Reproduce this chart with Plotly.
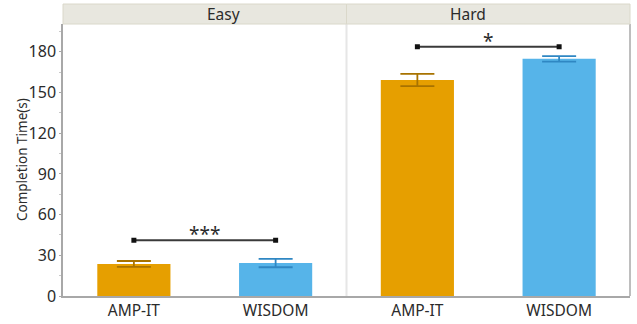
import plotly.graph_objects as go

# Completion time by task difficulty and method (mean ± error)
conditions = ["Easy", "Hard"]
methods = ["AMP-IT", "WISDOM"]
easy_mean = [23.6, 24.3]
easy_err = [2.2, 3.1]
hard_mean = [159.2, 174.8]
hard_err = [4.5, 2.0]
sig_labels = ["***", "*"]
sig_heights = [41.1, 183.8]
y_ticks = [0, 30, 60, 90, 120, 150, 180]

bar_colors = ["#E69F00", "#56B4E9"]
err_colors = ["#A87300", "#2F87C3"]
FONT = "Noto Sans"
TEXT = "#2b2b2b"
AXIS_GRAY = "#a8a8a8"

fig = go.Figure()

panel_means = [easy_mean, hard_mean]
panel_errs = [easy_err, hard_err]
xrefs = ["x", "x2"]

for p, cond in enumerate(conditions):
    for m, name in enumerate(methods):
        fig.add_trace(go.Bar(
            x=[m], y=[panel_means[p][m]], width=0.516,
            marker=dict(color=bar_colors[m], line=dict(width=0)),
            error_y=dict(type="data", array=[panel_errs[p][m]], visible=True,
                         color=err_colors[m], thickness=1.8, width=17),
            xaxis=xrefs[p], yaxis="y", showlegend=False, name=name,
        ))
    # significance bracket between the two bars
    fig.add_trace(go.Scatter(
        x=[0, 1], y=[sig_heights[p], sig_heights[p]], mode="lines+markers",
        line=dict(color="#3a3a3a", width=2),
        marker=dict(symbol="square", size=5, color="#111111"),
        xaxis=xrefs[p], yaxis="y", showlegend=False, hoverinfo="skip",
    ))
    fig.add_annotation(
        x=0.5, y=sig_heights[p], xref=xrefs[p], yref="y", text=sig_labels[p],
        showarrow=False, yanchor="bottom", yshift=-9,
        font=dict(family=FONT, size=19, color=TEXT),
    )

xaxis_common = dict(
    range=[-0.5, 1.5], tickmode="array", tickvals=[0, 1], ticktext=methods,
    showline=True, linecolor=AXIS_GRAY, linewidth=1.5, ticks="",
    showgrid=False, zeroline=False, fixedrange=True, automargin=False,
    tickfont=dict(family=FONT, size=15.5, color=TEXT),
)

fig.update_layout(
    width=637, height=324,
    margin=dict(l=63, r=7, t=24, b=28),
    paper_bgcolor="white", plot_bgcolor="white",
    barmode="overlay",
    xaxis=dict(domain=[0, 0.5], anchor="y", **xaxis_common),
    xaxis2=dict(domain=[0.5, 1], anchor="y", **xaxis_common),
    yaxis=dict(
        range=[0, 200.5], tickvals=y_ticks, showgrid=False, zeroline=False,
        showline=True, linecolor=AXIS_GRAY, linewidth=1.5, automargin=False,
        ticks="outside", ticklen=2, tickcolor=AXIS_GRAY, tickwidth=1,
        minor=dict(dtick=15, tick0=0, ticks="outside", ticklen=2, tickcolor="#c8c8c8"),
        tickfont=dict(family=FONT, size=16, color=TEXT),
    ),
    font=dict(family=FONT, color=TEXT),
)

# y-axis title, placed beside the tick labels
fig.add_annotation(x=-41 / 567, y=0.5, xref="paper", yref="paper",
                   text="Completion Time(s)", textangle=-90, showarrow=False,
                   xanchor="center", yanchor="middle",
                   font=dict(family=FONT, size=13.5, color=TEXT))

# divider between panels and right border of the plot area
fig.add_shape(type="line", xref="paper", yref="paper", x0=0.5, x1=0.5, y0=0, y1=1,
              line=dict(color="#e6e6e6", width=2), layer="below")
fig.add_shape(type="line", xref="paper", yref="paper", x0=1, x1=1, y0=0, y1=1,
              line=dict(color=AXIS_GRAY, width=1.5))

# facet header strips
strip_h = 20 / 272
for p, cond in enumerate(conditions):
    x0, x1 = p * 0.5, (p + 1) * 0.5
    fig.add_shape(type="rect", xref="paper", yref="paper",
                  x0=x0, x1=x1, y0=1, y1=1 + strip_h,
                  fillcolor="#E8E7DF", line=dict(color="#DAD8CA", width=1))
    fig.add_annotation(x=(x0 + x1) / 2, y=1 + strip_h / 2, xref="paper", yref="paper",
                       text=cond, showarrow=False, yanchor="middle",
                       font=dict(family=FONT, size=15.5, color=TEXT))

fig.write_html("out.html")
